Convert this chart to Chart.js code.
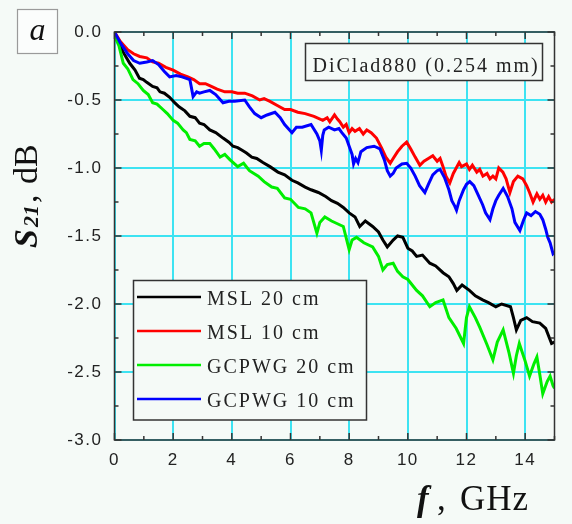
<!DOCTYPE html>
<html>
<head>
<meta charset="utf-8">
<script src="https://cdn.jsdelivr.net/npm/chart.js@4"></script>
<style>
  html, body { margin: 0; padding: 0; background: #f5faf7; }
  canvas { display: block; }
</style>
</head>
<body>
<canvas id="c" width="572" height="524"></canvas>
<script>
// ---- data ----
const seriesLabels = ["MSL 20 cm", "MSL 10 cm", "GCPWG 20 cm", "GCPWG 10 cm"];
const seriesColors = ["#000000", "#ff0000", "#00ee00", "#0000ff"];

const msl20F = [0,0.15,0.3,0.52,0.7,0.85,0.98,1.1,1.3,1.45,1.55,1.7,1.88,2.05,2.2,2.4,2.57,2.75,2.9,3.05,3.25,3.45,3.7,3.9,4.04,4.2,4.35,4.5,4.68,4.85,5.06,5.3,5.57,5.8,6.05,6.25,6.5,6.7,6.95,7.2,7.4,7.6,7.8,8.0,8.2,8.36,8.55,8.8,9.0,9.15,9.3,9.5,9.65,9.83,10.0,10.15,10.3,10.5,10.75,10.95,11.2,11.4,11.55,11.67,11.85,12.1,12.3,12.55,12.75,13.0,13.2,13.5,13.6,13.7,13.85,14.05,14.25,14.5,14.7,14.9,15];
const msl20V = [-0.02,-0.08,-0.15,-0.23,-0.28,-0.34,-0.35,-0.37,-0.40,-0.41,-0.44,-0.45,-0.48,-0.52,-0.55,-0.58,-0.62,-0.63,-0.67,-0.68,-0.72,-0.74,-0.78,-0.81,-0.84,-0.85,-0.87,-0.89,-0.92,-0.93,-0.96,-0.99,-1.03,-1.05,-1.09,-1.11,-1.14,-1.16,-1.18,-1.21,-1.24,-1.26,-1.29,-1.33,-1.36,-1.43,-1.39,-1.43,-1.47,-1.53,-1.58,-1.53,-1.50,-1.51,-1.59,-1.61,-1.65,-1.64,-1.70,-1.72,-1.77,-1.80,-1.85,-1.90,-1.86,-1.90,-1.94,-1.97,-1.99,-2.02,-2.00,-2.02,-2.10,-2.19,-2.12,-2.10,-2.13,-2.14,-2.18,-2.29,-2.28];

const msl10F = [0,0.2,0.45,0.65,0.86,1.1,1.3,1.5,1.75,2.0,2.25,2.5,2.7,2.9,3.1,3.3,3.5,3.76,4.0,4.2,4.44,4.7,4.95,5.1,5.3,5.55,5.8,6.0,6.25,6.5,6.8,7.1,7.25,7.34,7.5,7.6,7.68,7.8,7.9,8.0,8.1,8.2,8.35,8.48,8.6,8.75,8.93,9.1,9.25,9.4,9.5,9.65,9.8,9.96,10.1,10.25,10.41,10.55,10.7,10.85,11.0,11.1,11.2,11.3,11.43,11.55,11.65,11.75,11.83,12.0,12.1,12.2,12.35,12.45,12.56,12.7,12.8,12.9,13.0,13.1,13.24,13.35,13.48,13.6,13.75,13.92,14.05,14.15,14.27,14.4,14.5,14.6,14.7,14.8,14.9,15];
const msl10V = [0,-0.07,-0.13,-0.16,-0.18,-0.19,-0.22,-0.23,-0.26,-0.28,-0.31,-0.33,-0.35,-0.38,-0.38,-0.40,-0.42,-0.44,-0.44,-0.45,-0.45,-0.47,-0.50,-0.49,-0.51,-0.54,-0.57,-0.57,-0.59,-0.60,-0.62,-0.65,-0.63,-0.66,-0.61,-0.64,-0.66,-0.70,-0.68,-0.74,-0.71,-0.73,-0.71,-0.75,-0.72,-0.74,-0.78,-0.85,-0.92,-0.965,-0.93,-0.88,-0.84,-0.81,-0.86,-0.92,-0.98,-0.95,-0.93,-0.91,-0.95,-0.93,-0.99,-1.06,-1.11,-1.04,-1.00,-0.96,-0.99,-0.97,-1.01,-0.98,-1.03,-1.01,-1.06,-1.04,-1.08,-1.06,-1.08,-1.00,-1.03,-1.08,-1.18,-1.10,-1.06,-1.08,-1.13,-1.18,-1.25,-1.19,-1.23,-1.20,-1.25,-1.21,-1.25,-1.23];

const gcp20F = [0,0.15,0.3,0.45,0.63,0.8,0.98,1.15,1.3,1.45,1.65,1.8,2.0,2.15,2.34,2.45,2.57,2.75,2.9,3.05,3.25,3.4,3.6,3.76,3.94,4.2,4.4,4.6,4.9,5.1,5.36,5.55,5.8,6.0,6.27,6.5,6.7,6.9,7.0,7.17,7.4,7.6,7.8,8.0,8.1,8.25,8.5,8.8,9.0,9.15,9.3,9.5,9.65,9.83,10.0,10.15,10.3,10.5,10.75,10.95,11.2,11.4,11.65,11.9,12.0,12.1,12.3,12.45,12.7,12.9,13.05,13.25,13.45,13.6,13.7,13.8,14.0,14.15,14.3,14.4,14.5,14.6,14.75,14.85,14.95,15];
const gcp20V = [-0.03,-0.10,-0.23,-0.27,-0.35,-0.38,-0.43,-0.46,-0.52,-0.53,-0.57,-0.60,-0.65,-0.67,-0.72,-0.74,-0.79,-0.80,-0.84,-0.82,-0.82,-0.86,-0.92,-0.90,-0.94,-0.99,-0.965,-1.02,-1.06,-1.10,-1.14,-1.15,-1.22,-1.23,-1.29,-1.30,-1.33,-1.48,-1.40,-1.36,-1.39,-1.41,-1.43,-1.60,-1.53,-1.51,-1.55,-1.58,-1.65,-1.75,-1.71,-1.70,-1.76,-1.80,-1.82,-1.86,-1.90,-1.94,-2.02,-1.99,-1.97,-2.10,-2.18,-2.29,-2.10,-2.02,-2.10,-2.17,-2.30,-2.41,-2.28,-2.19,-2.36,-2.51,-2.38,-2.29,-2.42,-2.53,-2.44,-2.39,-2.52,-2.66,-2.57,-2.53,-2.60,-2.62];

const gcp10F = [0,0.2,0.45,0.65,0.86,1.1,1.3,1.5,1.7,1.88,2.1,2.3,2.57,2.68,2.8,2.9,3.05,3.25,3.45,3.7,3.9,4.1,4.44,4.6,4.78,5.0,5.2,5.47,5.65,5.8,6.05,6.2,6.4,6.7,6.9,7.0,7.05,7.1,7.15,7.3,7.5,7.65,7.75,7.9,8.0,8.1,8.15,8.22,8.3,8.4,8.6,8.85,9.05,9.2,9.3,9.4,9.5,9.6,9.8,9.96,10.1,10.25,10.4,10.58,10.7,10.85,11.0,11.1,11.25,11.4,11.5,11.6,11.66,11.75,11.9,12.0,12.11,12.25,12.4,12.55,12.65,12.8,12.9,13.0,13.1,13.25,13.4,13.55,13.65,13.82,13.95,14.05,14.2,14.35,14.5,14.6,14.7,14.77,14.85,14.95,15];
const gcp10V = [0,-0.08,-0.16,-0.21,-0.23,-0.22,-0.21,-0.24,-0.29,-0.33,-0.32,-0.33,-0.35,-0.475,-0.44,-0.45,-0.44,-0.43,-0.46,-0.52,-0.51,-0.51,-0.50,-0.55,-0.60,-0.63,-0.61,-0.59,-0.63,-0.68,-0.74,-0.70,-0.70,-0.68,-0.75,-0.80,-0.87,-0.76,-0.72,-0.70,-0.72,-0.71,-0.74,-0.78,-0.84,-0.90,-0.97,-0.93,-0.96,-0.88,-0.85,-0.84,-0.86,-0.94,-1.02,-1.06,-1.04,-1.00,-0.97,-0.965,-1.00,-1.06,-1.13,-1.18,-1.12,-1.05,-1.02,-1.01,-1.07,-1.16,-1.24,-1.28,-1.31,-1.24,-1.16,-1.12,-1.10,-1.13,-1.20,-1.27,-1.33,-1.38,-1.30,-1.24,-1.20,-1.15,-1.21,-1.30,-1.40,-1.46,-1.38,-1.33,-1.35,-1.32,-1.34,-1.38,-1.45,-1.51,-1.55,-1.63,-1.62];

const xTickLabels = ["0","2","4","6","8","10","12","14"];
const yTickLabels = ["0.0","-0.5","-1.0","-1.5","-2.0","-2.5","-3.0"];
const annotationText = "DiClad880 (0.254 mm)";
const panelLetter = "a";

// ---- build chart ----
const BG = "#f5faf7";
const seriesF = [msl20F, msl10F, gcp20F, gcp10F];
const seriesV = [msl20V, msl10V, gcp20V, gcp10V];
const datasets = seriesLabels.map((lab, i) => ({
  label: lab,
  data: seriesF[i].map((f, k) => ({ x: f, y: seriesV[i][k] })),
  borderColor: seriesColors[i],
  backgroundColor: seriesColors[i],
  borderWidth: 3,
  pointRadius: 0,
  tension: 0,
  fill: false,
  order: 3 - i
}));

const decor = {
  id: "decor",
  beforeDraw(chart) {
    const ctx = chart.ctx;
    ctx.save();
    ctx.fillStyle = BG;
    ctx.fillRect(0, 0, chart.width, chart.height);
    ctx.restore();
    ctx.letterSpacing = "1.5px";
  },
  afterDraw(chart) {
    const ctx = chart.ctx;
    const a = chart.chartArea;
    const xs = chart.scales.x, ys = chart.scales.y;
    ctx.save();
    ctx.letterSpacing = "0px";
    // frame
    ctx.strokeStyle = "#333";
    ctx.lineWidth = 1.5;
    ctx.strokeRect(a.left, a.top, a.right - a.left, a.bottom - a.top);
    // inward ticks
    ctx.beginPath();
    for (let v = 0; v <= 15; v += 1) {
      const px = xs.getPixelForValue(v);
      const len = (v % 2 === 0) ? 7 : 4;
      ctx.moveTo(px, a.bottom); ctx.lineTo(px, a.bottom - len);
      ctx.moveTo(px, a.top); ctx.lineTo(px, a.top + len);
    }
    for (let k = 0; k <= 12; k++) {
      const v = -k * 0.25;
      const py = ys.getPixelForValue(v);
      const len = (k % 2 === 0) ? 7 : 4;
      ctx.moveTo(a.left, py); ctx.lineTo(a.left + len, py);
      ctx.moveTo(a.right, py); ctx.lineTo(a.right - len, py);
    }
    ctx.stroke();

    // panel letter box
    ctx.fillStyle = "#fbfdfc";
    ctx.fillRect(17.5, 9.5, 40, 44);
    ctx.strokeStyle = "#9a9a9a";
    ctx.lineWidth = 1.2;
    ctx.strokeRect(17.5, 9.5, 40, 44);
    ctx.fillStyle = "#111";
    ctx.font = "italic 32px 'Liberation Serif'";
    ctx.textAlign = "center";
    ctx.textBaseline = "alphabetic";
    ctx.fillText(panelLetter, 37.5, 40);

    // annotation box
    ctx.fillStyle = BG;
    ctx.fillRect(305.5, 43.5, 237, 37);
    ctx.strokeStyle = "#333";
    ctx.lineWidth = 1.5;
    ctx.strokeRect(305.5, 43.5, 237, 37);
    ctx.fillStyle = "#222";
    ctx.font = "20px 'Liberation Serif'";
    ctx.textAlign = "left";
    ctx.letterSpacing = "2px";
    ctx.fillText(annotationText, 312.5, 72);

    // legend box
    ctx.letterSpacing = "0px";
    ctx.fillStyle = BG;
    ctx.fillRect(133.5, 280.5, 233, 139.5);
    ctx.strokeStyle = "#333";
    ctx.lineWidth = 1.5;
    ctx.strokeRect(133.5, 280.5, 233, 139.5);
    chart.data.datasets.forEach((ds, i) => {
      const base = 305 + i * 34;
      ctx.strokeStyle = ds.borderColor;
      ctx.lineWidth = 2.6;
      ctx.beginPath();
      ctx.moveTo(137, base - 8);
      ctx.lineTo(201, base - 8);
      ctx.stroke();
      ctx.fillStyle = "#222";
      ctx.font = "20px 'Liberation Serif'";
      ctx.letterSpacing = "2px";
      ctx.fillText(ds.label, 207, base);
      ctx.letterSpacing = "0px";
    });

    // x axis title
    ctx.fillStyle = "#111";
    ctx.textAlign = "left";
    ctx.font = "bold italic 35px 'Liberation Serif'";
    ctx.fillText("f", 417, 510);
    ctx.font = "35px 'Liberation Serif'";
    ctx.fillText(",", 437, 510);
    ctx.letterSpacing = "1px";
    ctx.fillText("GHz", 460, 510);
    ctx.letterSpacing = "0px";

    // y axis title (rotated)
    ctx.save();
    ctx.translate(37, 248);
    ctx.rotate(-Math.PI / 2);
    let x = 0;
    ctx.font = "bold italic 34px 'Liberation Serif'";
    ctx.fillText("S", x, 0);
    x += ctx.measureText("S").width + 2;
    ctx.font = "bold italic 22px 'Liberation Serif'";
    ctx.fillText("21", x, 1);
    x += ctx.measureText("21").width + 2;
    ctx.font = "34px 'Liberation Serif'";
    ctx.fillText(",", x, 0);
    x += ctx.measureText(", ").width + 2;
    ctx.fillText("dB", x, 0);
    ctx.restore();

    ctx.restore();
  }
};

new Chart(document.getElementById("c"), {
  type: "line",
  data: { datasets },
  options: {
    responsive: false,
    animation: false,
    devicePixelRatio: 1,
    layout: { padding: { top: 32, right: 17.5, left: 0, bottom: 0 } },
    plugins: { legend: { display: false }, tooltip: { enabled: false } },
    elements: { line: { borderJoinStyle: "miter" } },
    scales: {
      x: {
        type: "linear",
        min: 0, max: 15,
        afterFit(s) { s.height = 84; },
        border: { display: false },
        grid: { color: "#3de3f2", lineWidth: 2, drawTicks: false },
        ticks: {
          stepSize: 2,
          includeBounds: false,
          padding: 10,
          color: "#222",
          font: { family: "'Liberation Sans'", size: 17 },
          maxRotation: 0,
          callback: (v) => { const i = xTickLabels.indexOf(String(v)); return i >= 0 ? xTickLabels[i] : ""; }
        }
      },
      y: {
        type: "linear",
        min: -3, max: 0,
        afterFit(s) { s.width = 114.5; },
        border: { display: false },
        grid: { color: "#3de3f2", lineWidth: 2, drawTicks: false },
        ticks: {
          stepSize: 0.5,
          padding: 12,
          color: "#222",
          font: { family: "'Liberation Sans'", size: 17 },
          callback: (v) => yTickLabels[Math.round(-v / 0.5)]
        }
      }
    }
  },
  plugins: [decor]
});
</script>
</body>
</html>
